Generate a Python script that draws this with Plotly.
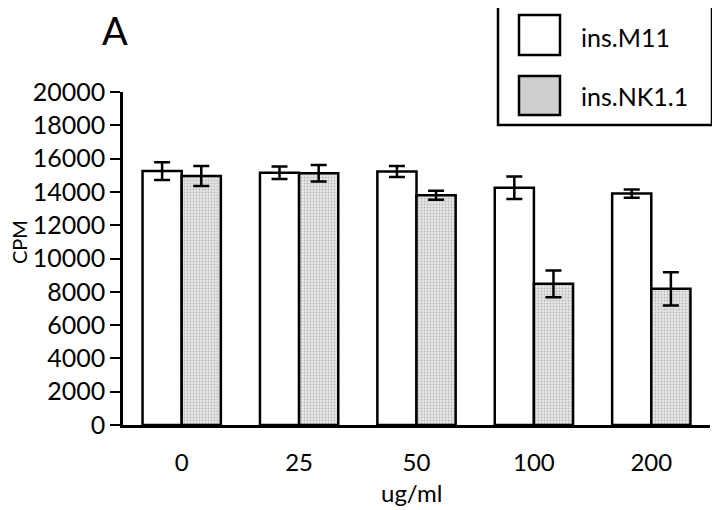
import plotly.graph_objects as go

categories = ["0", "25", "50", "100", "200"]
m11_values = [15250, 15150, 15220, 14250, 13900]
m11_errors = [530, 370, 330, 680, 250]
nk_values = [14950, 15120, 13800, 8480, 8180]
nk_errors = [600, 500, 270, 800, 1000]
y_ticks = list(range(0, 20001, 2000))

OFF = 8  # page body margin
W, H = 720 - OFF, 510 - OFF
L, T = 123 - OFF, 92 - OFF
R = W - (710 - OFF)
B = H - (425 - OFF)
PW, PH = W - L - R, H - T - B

def px(x):
    return (x - OFF - L) / PW

def py(y):
    return (H - B - (y - OFF)) / PH

FONT = "Lato, 'Noto Sans', sans-serif"
xs = list(range(len(categories)))

fig = go.Figure()
fig.add_trace(go.Bar(
    x=xs, y=m11_values, name="ins.M11",
    marker=dict(color="white", line=dict(color="black", width=2.5)),
    error_y=dict(type="data", array=m11_errors, color="black", thickness=2.5, width=8),
))
fig.add_trace(go.Bar(
    x=xs, y=nk_values, name="ins.NK1.1",
    marker=dict(color="#d4d4d4", line=dict(color="black", width=2.5),
                pattern=dict(shape=".", fgcolor="#8a8a8a", bgcolor="#e6e6e6", size=3, solidity=0.3)),
    error_y=dict(type="data", array=nk_errors, color="black", thickness=2.5, width=8),
))

fig.update_layout(
    width=W, height=H,
    margin=dict(l=L, r=R, t=T, b=B, pad=0),
    paper_bgcolor="white", plot_bgcolor="white",
    barmode="group", bargap=0.333, bargroupgap=0,
    showlegend=False,
    font=dict(family=FONT, size=24, color="black"),
    xaxis=dict(
        range=[-0.5, 4.5], tickmode="array", tickvals=xs, ticktext=categories,
        showline=True, linecolor="black", linewidth=2.5,
        ticks="outside", ticklen=14, tickcolor="rgba(0,0,0,0)",
        showgrid=False, zeroline=False, tickfont=dict(size=24),
    ),
    yaxis=dict(
        range=[0, 20000], tickmode="array", tickvals=y_ticks,
        ticktext=[str(v) for v in y_ticks],
        showline=True, linecolor="black", linewidth=2.5, ticks="outside",
        ticklen=10, tickwidth=2, tickcolor="black",
        showgrid=False, zeroline=False, tickfont=dict(size=25),
    ),
)

# axis titles
fig.add_annotation(text="CPM", x=px(19), y=py(242), xref="paper", yref="paper",
                   xanchor="center", yanchor="middle", borderpad=0,
                   textangle=-90, showarrow=False, font=dict(size=20))
fig.add_annotation(text="ug/ml", x=px(411), y=py(492), xref="paper", yref="paper",
                   xanchor="center", yanchor="middle",
                   showarrow=False, font=dict(size=24))
# panel label
fig.add_annotation(text="A", x=px(115), y=py(30), xref="paper", yref="paper",
                   xanchor="center", yanchor="middle", borderpad=0,
                   showarrow=False, font=dict(size=38))

# custom legend
fig.add_shape(type="rect", xref="paper", yref="paper",
              x0=px(498), x1=px(712), y0=py(5), y1=py(125),
              line=dict(color="black", width=2.5), fillcolor="white")
fig.add_shape(type="rect", xref="paper", yref="paper",
              x0=px(519), x1=px(560), y0=py(15), y1=py(55),
              line=dict(color="black", width=2.5), fillcolor="white")
fig.add_shape(type="rect", xref="paper", yref="paper",
              x0=px(519), x1=px(560), y0=py(76), y1=py(115),
              line=dict(color="black", width=2.5), fillcolor="#cfcfcf")
fig.add_annotation(text="ins.M11", x=px(579), y=py(37), xref="paper", yref="paper",
                   xanchor="left", yanchor="middle", showarrow=False, font=dict(size=25))
fig.add_annotation(text="ins.NK1.1", x=px(579), y=py(96), xref="paper", yref="paper",
                   xanchor="left", yanchor="middle", showarrow=False, font=dict(size=25))

fig.write_html("out.html")
